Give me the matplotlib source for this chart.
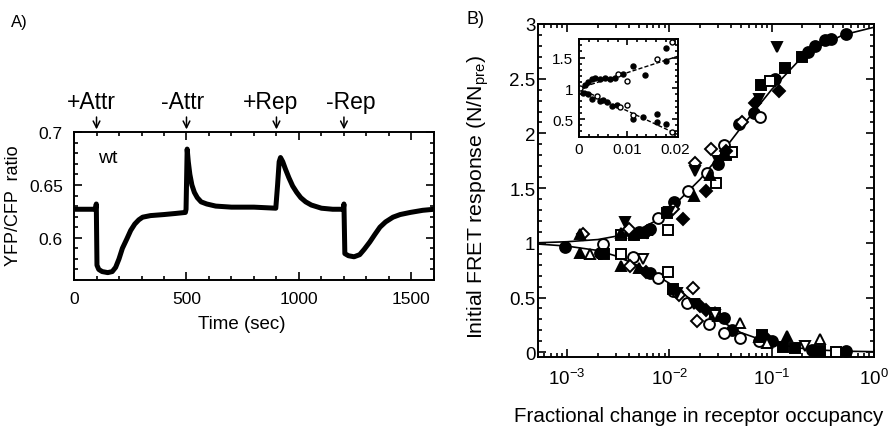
import matplotlib
matplotlib.use('Agg')
import matplotlib.pyplot as plt
from matplotlib.ticker import MultipleLocator, LogLocator, NullFormatter

plt.rcParams['font.family'] = ['Liberation Sans', 'DejaVu Sans']
plt.rcParams['mathtext.fontset'] = 'custom'
plt.rcParams['mathtext.rm'] = 'Liberation Sans'

# --- Panel A: YFP/CFP ratio trace ---
time_s = [0, 50, 95, 99, 102, 110, 125, 150, 170, 185, 200, 215, 235, 252, 270, 288, 305,
          340, 400, 450, 495, 498,
          503, 508, 515, 524, 535, 548, 565, 590, 630, 700, 800, 897,
          905, 912, 918, 928, 940, 955, 972, 990, 1008, 1030, 1055, 1100, 1150, 1197,
          1200, 1204, 1220, 1245, 1270, 1290, 1315, 1337, 1360, 1385, 1418, 1450, 1495,
          1550, 1600]
ratio = [0.627, 0.627, 0.627, 0.632, 0.574, 0.570, 0.568, 0.567, 0.568, 0.572, 0.580, 0.590,
         0.599, 0.607, 0.613, 0.617, 0.6195, 0.621, 0.622, 0.623, 0.624, 0.627,
         0.684, 0.672, 0.660, 0.650, 0.643, 0.638, 0.634, 0.632, 0.630, 0.629, 0.629, 0.628,
         0.650, 0.672, 0.676, 0.672, 0.665, 0.657, 0.649, 0.643, 0.638, 0.634, 0.631, 0.628,
         0.627, 0.627,
         0.632, 0.585, 0.583, 0.582, 0.584, 0.589, 0.596, 0.603, 0.610, 0.615, 0.6195, 0.622,
         0.624, 0.626, 0.627]
event_times = [100, 500, 900, 1200]
event_labels = ['+Attr', '-Attr', '+Rep', '-Rep']

# --- Panel B: fit curves ---
fit_x = [5e-4, 1e-3, 2e-3, 3e-3, 5e-3, 7e-3, 1e-2, 2e-2, 3e-2, 5e-2, 0.1, 0.2, 0.3, 0.5, 1.0]
fit_up = [1.00, 1.01, 1.03, 1.06, 1.12, 1.19, 1.30, 1.58, 1.78, 2.05, 2.40, 2.70, 2.80, 2.90, 2.97]
fit_down = [0.99, 0.97, 0.93, 0.88, 0.79, 0.72, 0.63, 0.42, 0.30, 0.18, 0.08, 0.035, 0.02, 0.01, 0.005]

# upper branch (attractant removal / repellent addition)
up_fcirc_x = [0.005, 0.0065, 0.0112, 0.03, 0.048, 0.067, 0.108, 0.229, 0.264, 0.332, 0.38, 0.538]
up_fcirc_y = [1.10, 1.13, 1.37, 1.72, 2.09, 2.19, 2.50, 2.74, 2.80, 2.85, 2.86, 2.91]
up_ocirc_x = [0.0045, 0.0077, 0.0151, 0.0235, 0.0342, 0.0777]
up_ocirc_y = [1.08, 1.23, 1.47, 1.64, 1.89, 2.15]
up_fsq_x = [0.0045, 0.0055, 0.0095, 0.036, 0.078, 0.136, 0.2]
up_fsq_y = [1.07, 1.09, 1.27, 1.80, 2.44, 2.60, 2.70]
up_osq_x = [0.0034, 0.0096, 0.0284, 0.0412, 0.097]
up_osq_y = [1.07, 1.12, 1.55, 1.83, 2.48]
up_fdia_x = [0.0042, 0.006, 0.0135, 0.0227, 0.0355, 0.069, 0.117]
up_fdia_y = [1.09, 1.10, 1.22, 1.47, 1.84, 2.28, 2.39]
up_odia_x = [0.00144, 0.004, 0.0108, 0.018, 0.0254, 0.0517]
up_odia_y = [1.08, 1.13, 1.31, 1.73, 1.86, 2.10]
up_ftri_x = [0.00134, 0.0034, 0.006, 0.0175, 0.025, 0.035]
up_ftri_y = [1.08, 1.09, 1.12, 1.43, 1.62, 1.82]
up_ftrid_x = [0.00366, 0.01, 0.018, 0.03, 0.075, 0.112]
up_ftrid_y = [1.19, 1.28, 1.66, 1.75, 2.31, 2.79]

# lower branch (attractant addition / repellent removal)
dn_fcirc_x = [0.00096, 0.0021, 0.0065, 0.034, 0.041, 0.08, 0.1, 0.25, 0.538]
dn_fcirc_y = [0.96, 0.91, 0.72, 0.31, 0.20, 0.13, 0.10, 0.02, 0.01]
dn_ocirc_x = [0.00225, 0.0044, 0.0077, 0.0108, 0.015, 0.0244, 0.0342, 0.0495, 0.075]
dn_ocirc_y = [0.99, 0.87, 0.68, 0.56, 0.45, 0.26, 0.18, 0.13, 0.10]
dn_fsq_x = [0.0023, 0.0108, 0.08, 0.13, 0.17, 0.3]
dn_fsq_y = [0.90, 0.58, 0.16, 0.05, 0.04, 0.01]
dn_osq_x = [0.0034, 0.0096, 0.028, 0.43]
dn_osq_y = [0.90, 0.73, 0.36, 0.00]
dn_fdia_x = [0.0059, 0.012, 0.02, 0.0227, 0.09]
dn_fdia_y = [0.73, 0.55, 0.42, 0.39, 0.12]
dn_odia_x = [0.0041, 0.0125, 0.0169, 0.0188]
dn_odia_y = [0.79, 0.52, 0.59, 0.29]
dn_ftri_x = [0.00134, 0.0034, 0.0051, 0.03, 0.075, 0.141]
dn_ftri_y = [0.91, 0.79, 0.77, 0.33, 0.14, 0.15]
dn_otri_x = [0.00167, 0.028, 0.0495, 0.09, 0.298]
dn_otri_y = [0.90, 0.37, 0.27, 0.08, 0.12]
dn_otrid_x = [0.0055, 0.028, 0.21]
dn_otrid_y = [0.85, 0.34, 0.06]
dn_ftrid_x = [0.012, 0.0175]
dn_ftrid_y = [0.54, 0.44]

# inset (linear scale)
inset_fit_x = [0.0, 0.0205]
inset_fit_up = [1.0, 1.52]
inset_fit_down = [1.0, 0.25]
inset_up_filled_x = [0.00125, 0.0019, 0.0026, 0.0033, 0.0044, 0.0054, 0.0065, 0.0075, 0.0092,
                     0.0113, 0.0138, 0.0181, 0.0181]
inset_up_filled_y = [1.06, 1.10, 1.15, 1.17, 1.15, 1.16, 1.15, 1.17, 1.24, 1.36, 1.21, 1.44, 1.65]
inset_up_open_x = [0.0002, 0.0082, 0.0099, 0.0162, 0.0193]
inset_up_open_y = [1.01, 1.23, 1.12, 1.47, 1.75]
inset_dn_filled_x = [0.0009, 0.0019, 0.0026, 0.0044, 0.005, 0.0058, 0.0069, 0.0079, 0.0112,
                     0.0134, 0.0163, 0.0162, 0.0181]
inset_dn_filled_y = [0.93, 0.90, 0.82, 0.80, 0.81, 0.77, 0.71, 0.73, 0.50, 0.53, 0.59, 0.45, 0.42]
inset_dn_open_x = [0.0037, 0.0085, 0.0099, 0.0112, 0.0193]
inset_dn_open_y = [0.87, 0.69, 0.73, 0.57, 0.29]


def style_axes(ax, size):
    ax.tick_params(which='both', direction='in', top=True, right=True, width=1.2,
                   labelsize=size, pad=5)
    ax.tick_params(which='major', length=6)
    ax.tick_params(which='minor', length=3)
    for s in ax.spines.values():
        s.set_linewidth(1.4)


fig = plt.figure(figsize=(8.93, 4.31), dpi=100)

# ---------------- Panel A ----------------
axA = fig.add_axes([0.0829, 0.348, 0.403, 0.343])
axA.plot(time_s, ratio, color='black', lw=3.6, solid_joinstyle='round')
axA.set_xlim(0, 1600)
axA.set_ylim(0.56, 0.7)
axA.xaxis.set_major_locator(MultipleLocator(500))
axA.xaxis.set_minor_locator(MultipleLocator(100))
axA.yaxis.set_major_locator(MultipleLocator(0.05))
axA.yaxis.set_minor_locator(MultipleLocator(0.01))
axA.set_yticks([0.6, 0.65, 0.7])
axA.set_yticklabels(['0.6', '0.65', '0.7'])
style_axes(axA, 12.5)
axA.tick_params(axis='x', pad=8)
axA.tick_params(axis='y', pad=8)
axA.set_xlabel('Time (sec)', fontsize=13.5)
axA.xaxis.set_label_coords(0.465, -0.24)
axA.set_ylabel('YFP/CFP  ratio', fontsize=13)
axA.yaxis.set_label_coords(-0.145, 0.507)
axA.text(107, 0.672, 'wt', fontsize=14)
# small sideways shifts of the labels relative to their arrows, in points
label_shift = [-4, -3, -4, 5]
for t, lab, dx in zip(event_times, event_labels, label_shift):
    axA.annotate('', xy=(t, 0.7), xytext=(t, 0.7 + 0.05 * 18 / 53),
                 xycoords='data', annotation_clip=False,
                 arrowprops=dict(arrowstyle='->', color='black', lw=1.1, mutation_scale=12))
    axA.annotate(lab, xy=(t, 0.7 + 0.05 * 19 / 53), xytext=(dx, 0),
                 textcoords='offset points', ha='center', va='bottom', fontsize=16.5,
                 annotation_clip=False)
fig.text(0.012, 0.965, 'A)', fontsize=12, va='top')

# ---------------- Panel B ----------------
axB = fig.add_axes([0.6025, 0.169, 0.376, 0.773])
axB.plot(fit_x, fit_up, color='black', lw=1.2)
axB.plot(fit_x, fit_down, color='black', lw=1.2)

ms = 7.8
mk = dict(ls='none', markeredgecolor='black', markeredgewidth=1.4)
series = [
    (up_fcirc_x, up_fcirc_y, 'o', True), (up_ocirc_x, up_ocirc_y, 'o', False),
    (up_fsq_x, up_fsq_y, 's', True), (up_osq_x, up_osq_y, 's', False),
    (up_fdia_x, up_fdia_y, 'D', True), (up_odia_x, up_odia_y, 'D', False),
    (up_ftri_x, up_ftri_y, '^', True), (up_ftrid_x, up_ftrid_y, 'v', True),
    (dn_fcirc_x, dn_fcirc_y, 'o', True), (dn_ocirc_x, dn_ocirc_y, 'o', False),
    (dn_fsq_x, dn_fsq_y, 's', True), (dn_osq_x, dn_osq_y, 's', False),
    (dn_fdia_x, dn_fdia_y, 'D', True), (dn_odia_x, dn_odia_y, 'D', False),
    (dn_ftri_x, dn_ftri_y, '^', True), (dn_otri_x, dn_otri_y, '^', False),
    (dn_otrid_x, dn_otrid_y, 'v', False), (dn_ftrid_x, dn_ftrid_y, 'v', True),
]
for xs, ys, m, filled in series:
    size = ms * 0.8 if m == 'D' else ms
    axB.plot(xs, ys, marker=m, markerfacecolor='black' if filled else 'white',
             markersize=size, **mk)

axB.set_xscale('log')
axB.set_xlim(5.2e-4, 1)
axB.set_ylim(-0.045, 3)
axB.xaxis.set_major_locator(LogLocator(base=10, numticks=10))
axB.xaxis.set_minor_locator(LogLocator(base=10, subs=range(2, 10), numticks=20))
axB.xaxis.set_minor_formatter(NullFormatter())
axB.yaxis.set_major_locator(MultipleLocator(0.5))
axB.yaxis.set_minor_locator(MultipleLocator(0.1))
axB.set_yticks([0, 0.5, 1, 1.5, 2, 2.5, 3])
axB.set_yticklabels(['0', '0.5', '1', '1.5', '2', '2.5', '3'])
style_axes(axB, 13.5)
axB.tick_params(axis='y', pad=2)
axB.tick_params(axis='x', pad=8)
axB.set_xlabel('Fractional change in receptor occupancy', fontsize=14.8)
axB.xaxis.set_label_coords(0.479, -0.147)
axB.set_ylabel('Initial FRET response (N/N$_{\\mathrm{pre}}$)', fontsize=15.3)
axB.yaxis.set_label_coords(-0.14, 0.483)
fig.text(0.522, 0.975, 'B)', fontsize=13, va='top')

# inset
axI = fig.add_axes([0.6484, 0.680, 0.111, 0.227])
dash = (0, (3, 1.5))
axI.plot(inset_fit_x, inset_fit_up, color='black', lw=1, ls=dash)
axI.plot(inset_fit_x, inset_fit_down, color='black', lw=1, ls=dash)
ims = dict(ls='none', marker='o', markersize=3.6, markeredgecolor='black', markeredgewidth=1)
axI.plot(inset_up_filled_x, inset_up_filled_y, markerfacecolor='black', **ims)
axI.plot(inset_up_open_x, inset_up_open_y, markerfacecolor='white', **ims)
axI.plot(inset_dn_filled_x, inset_dn_filled_y, markerfacecolor='black', **ims)
axI.plot(inset_dn_open_x, inset_dn_open_y, markerfacecolor='white', **ims)
axI.set_xlim(0, 0.0206)
axI.set_ylim(0.21, 1.8)
axI.set_xticks([0, 0.01, 0.02])
axI.set_xticklabels(['0', '0.01', '0.02'])
axI.xaxis.set_minor_locator(MultipleLocator(0.002))
axI.set_yticks([0.5, 1, 1.5])
axI.set_yticklabels(['0.5', '1', '1.5'])
axI.yaxis.set_minor_locator(MultipleLocator(0.1))
style_axes(axI, 11)
axI.tick_params(which='major', length=4)
axI.tick_params(which='minor', length=2)
axI.tick_params(pad=4)

fig.savefig('out.png', dpi=100, facecolor='white')
plt.close(fig)
